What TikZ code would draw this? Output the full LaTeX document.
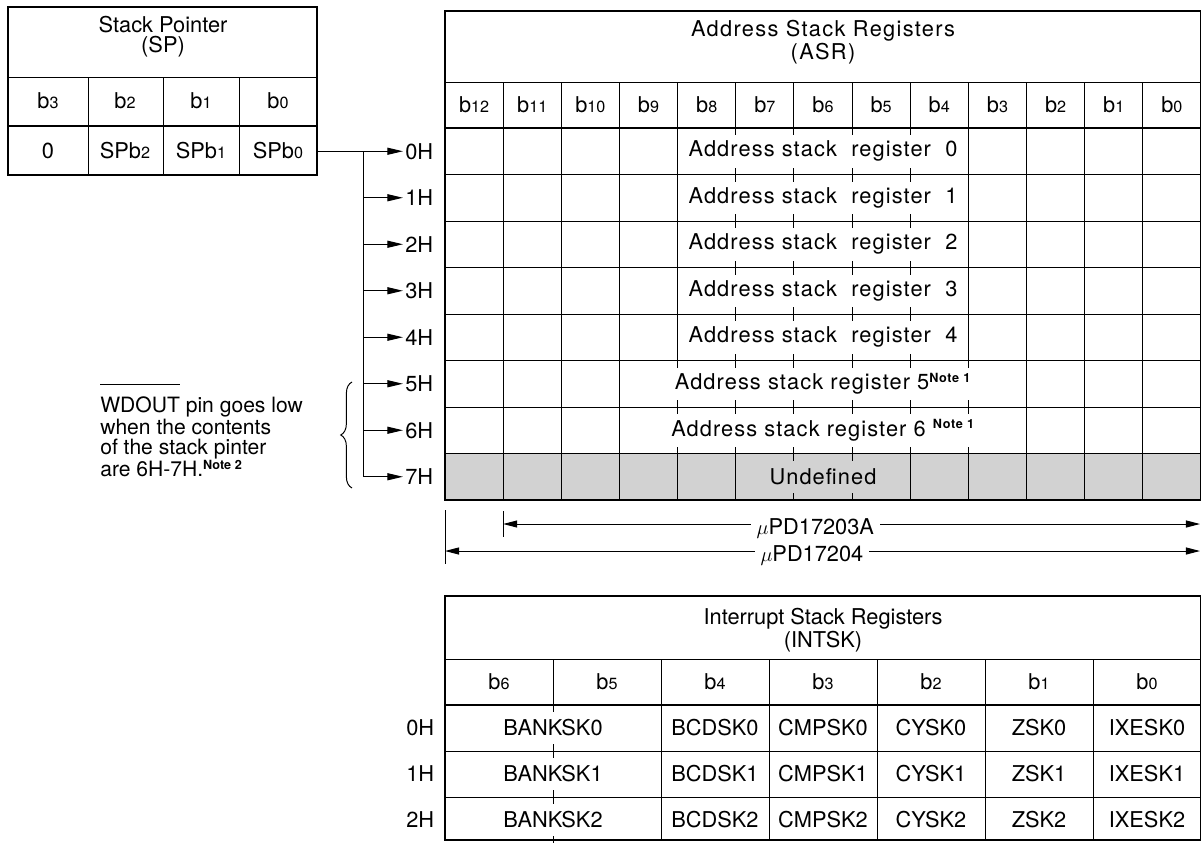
\documentclass[tikz,border=0pt]{standalone}
\usepackage{fontspec}
\setmainfont{TeX Gyre Heros}
\usepackage{tikz}
\usetikzlibrary{arrows.meta,positioning,calc,decorations.pathreplacing}

\newcommand{\bitlbl}[1]{b{\fontsize{11.5}{12}\selectfont #1}}
\newcommand{\notemark}[1]{\textsuperscript{\bfseries\fontsize{9}{10}\selectfont Note #1}}
\newsavebox{\sigbox}
\newcommand{\barsig}[1]{\sbox\sigbox{#1}\smash{\rlap{\rule[1.3em]{\wd\sigbox}{0.6pt}}}\usebox\sigbox}

\tikzset{
  boxline/.style={line width=1.4pt},
  cellline/.style={line width=0.7pt},
  lbl/.style={font=\fontsize{15.5}{16}\selectfont, inner sep=0pt},
  wide/.style={font=\fontsize{15.5}{16.3}\selectfont\addfontfeature{LetterSpace=5}, inner sep=0pt},
  ptr/.style={line width=0.7pt, -{Triangle[length=11pt,width=5pt]}},
  dimline/.style={line width=0.7pt, {Triangle[length=10pt,width=5pt]}-{Triangle[length=10pt,width=5pt]}},
}

\begin{document}
\begin{tikzpicture}[x=0.025cm, y=-0.025cm]
  \useasboundingbox (0,0) rectangle (1201,842);
  \clip (0,0) rectangle (1201,842);

  % Stack pointer (SP)
  \draw[boxline] (8,7) rectangle (317,175);
  \draw[cellline] (8,77) -- (317,77);
  \draw[boxline] (8,126) -- (317,126);
  \foreach \x in {88,163,239} \draw[cellline] (\x,77) -- (\x,175);
  \node[lbl, align=center, font=\fontsize{15.5}{14.2}\selectfont] (sptitle) at (163,37) {Stack Pointer\\(SP)};
  \node[lbl] (spb3) at (48,101) {\bitlbl{3}};
  \node[lbl] (spb2) at (125,101) {\bitlbl{2}};
  \node[lbl] (spb1) at (201,101) {\bitlbl{1}};
  \node[lbl] (spb0) at (278,101) {\bitlbl{0}};
  \node[lbl] (spd3) at (48,151) {0};
  \node[lbl] (spd2) at (125,151) {SP\bitlbl{2}};
  \node[lbl] (spd1) at (201,151) {SP\bitlbl{1}};
  \node[lbl] (spd0) at (278,151) {SP\bitlbl{0}};

  % Address stack registers (ASR)
  \fill[gray!35] (445,453.5) rectangle (1201,500);
  \draw[boxline] (445,11) rectangle (1201,500);
  \draw[cellline] (445,82) -- (1201,82);
  \draw[boxline] (445,128) -- (1201,128);
  \foreach \r in {1,...,7} \draw[cellline] (445,{128+\r*46.5}) -- (1201,{128+\r*46.5});
  \foreach \k in {1,...,12} \draw[cellline] ({445+\k*58.15},82) -- ({445+\k*58.15},128);
  \foreach \k in {1,2,3,10,11,12} \draw[cellline] ({445+\k*58.15},128) -- ({445+\k*58.15},500);
  \foreach \k in {4,9} {
    \draw[cellline] ({445+\k*58.15},128) -- ({445+\k*58.15},360.5);
    \draw[cellline] ({445+\k*58.15},453.5) -- ({445+\k*58.15},500);
  }
  \foreach \k in {5,8} \draw[cellline] ({445+\k*58.15},453.5) -- ({445+\k*58.15},500);
  % short ticks on the merged cells
  \foreach \k in {5,...,8}
    \foreach \r in {0,...,6}
      \draw[cellline] ({445+\k*58.15},{128+\r*46.5}) -- ++(0,7) ({445+\k*58.15},{174.5+\r*46.5}) -- ++(0,-7);
  \foreach \k in {4,9}
    \foreach \r in {5,6}
      \draw[cellline] ({445+\k*58.15},{128+\r*46.5}) -- ++(0,7) ({445+\k*58.15},{174.5+\r*46.5}) -- ++(0,-7);
  \foreach \k in {6,7}
    \draw[cellline] ({445+\k*58.15},453.5) -- ++(0,7) ({445+\k*58.15},500) -- ++(0,-7);

  \node[wide, align=center, font=\fontsize{15.5}{16.3}\selectfont\addfontfeature{LetterSpace=6}] (asrtitle) at (823,42) {Address Stack Registers\\(ASR)};
  \foreach \k in {0,...,12} {
    \pgfmathtruncatemacro{\b}{12-\k}
    \node[lbl] (ah\b) at ({445+(\k+0.5)*58.15},105) {\bitlbl{\b}};
  }
  \foreach \r in {0,...,4}
    \node[wide] (asr\r) at (823,{151.25+\r*46.5}) {Address stack\ \ register\ \ \r};
  \node[wide] (asr5) at (823,383.75) {Address stack register 5\notemark{1}};
  \node[wide] (asr6) at (823,430.25) {Address stack register 6 \notemark{1}};
  \node[wide] (undef) at (823,476.75) {Undefined};

  % pointer arrows
  \foreach \r in {0,...,7}
    \node[lbl, anchor=west] (h\r) at (405,{151.25+\r*46.5}) {\r H};
  \coordinate (spout) at (317,151.25);
  \coordinate (branch) at (363,151.25);
  \draw[ptr, shorten >=1.5pt] (spout) -- (h0.west);
  \draw[cellline] (branch) -- (branch |- h7.west);
  \foreach \r in {1,...,7} \draw[ptr, shorten >=1.5pt] (branch |- h\r.west) -- (h\r.west);

  % note on WDOUT
  \node[lbl, font=\fontsize{15}{14.2}\selectfont, anchor=west, align=left] (wdnote) at (100,437)
    {\barsig{WDOUT} pin goes low\\when the contents\\of the stack pinter\\are 6H-7H.\notemark{2}};
  \draw[cellline, decorate, decoration={brace, amplitude=8pt}] (352,488) -- (352,382);

  % widths of the two devices
  \draw[cellline] (445,510) -- (445,564);
  \draw[cellline] (503.15,511) -- (503.15,537);
  \coordinate (a03) at (503.15,524);
  \coordinate (b03) at (1200,524);
  \coordinate (a04) at (445,551);
  \coordinate (b04) at (1200,551);
  \draw[dimline] (a03) -- (b03) node[lbl, pos=0.448, fill=white, inner xsep=4pt, inner ysep=1pt, yshift=-3pt] (pd03) {$\mu$PD17203A};
  \draw[dimline] (a04) -- (b04) node[lbl, pos=0.486, fill=white, inner xsep=4pt, inner ysep=1pt, yshift=-3pt] (pd04) {$\mu$PD17204};

  % Interrupt stack registers (INTSK)
  \draw[boxline] (445,596) rectangle (1201,840);
  \draw[cellline] (445,659) -- (1201,659);
  \draw[boxline] (445,705) -- (1201,705);
  \foreach \y in {751,797} \draw[cellline] (445,\y) -- (1201,\y);
  \draw[cellline] (553,659) -- (553,705);
  \foreach \x in {661,769,877,985,1093} \draw[cellline] (\x,659) -- (\x,840);
  \foreach \y in {705,751,797} \draw[cellline] (553,\y) -- ++(0,7) (553,\y+46) -- ++(0,-7);
  \node[lbl, align=center, font=\fontsize{15.5}{14.2}\selectfont] (intitle) at (823,630) {Interrupt Stack Registers\\(INTSK)};
  \foreach \k in {0,...,6} {
    \pgfmathtruncatemacro{\b}{6-\k}
    \node[lbl] (ih\b) at ({499+\k*108},682) {\bitlbl{\b}};
  }
  \foreach \r in {0,1,2} {
    \node[lbl, anchor=west] (i\r) at (406,{728+\r*46}) {\r H};
    \node[lbl] (bank\r) at (553,{728+\r*46}) {BANKSK\r};
    \node[lbl] (bcd\r) at (715,{728+\r*46}) {BCDSK\r};
    \node[lbl] (cmp\r) at (823,{728+\r*46}) {CMPSK\r};
    \node[lbl] (cy\r) at (931,{728+\r*46}) {CYSK\r};
    \node[lbl] (z\r) at (1039,{728+\r*46}) {ZSK\r};
    \node[lbl] (ixe\r) at (1147,{728+\r*46}) {IXESK\r};
  }
\end{tikzpicture}
\end{document}
